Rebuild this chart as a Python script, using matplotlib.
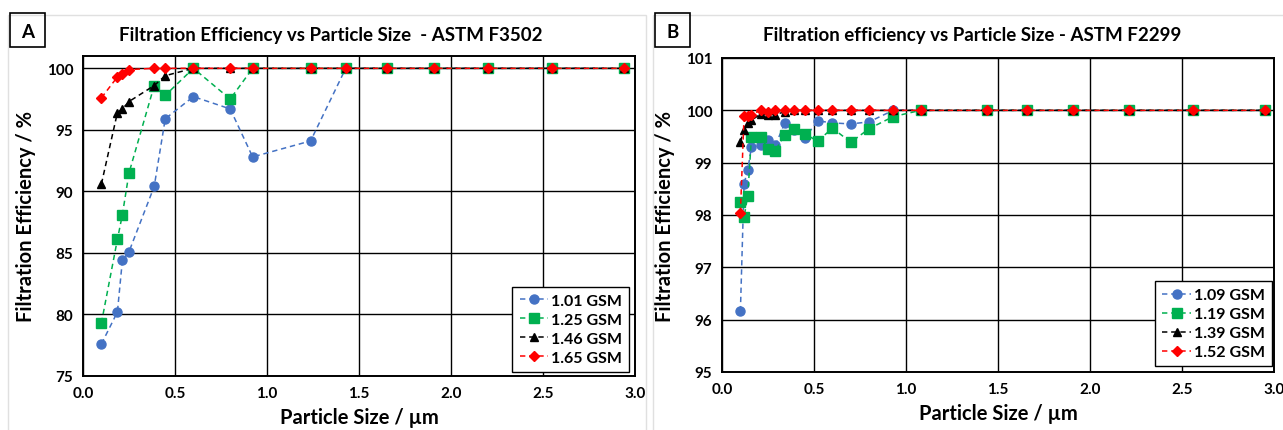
import matplotlib
matplotlib.use("Agg")
import matplotlib.pyplot as plt
from matplotlib.patches import Rectangle

plt.rcParams['font.family'] = ['Lato', 'DejaVu Sans']
plt.rcParams['font.weight'] = 'bold'

# ---------------- Data: Panel A (ASTM F3502) ----------------
size_a = [0.10, 0.187, 0.214, 0.25, 0.387, 0.447, 0.60, 0.80, 0.922, 1.237,
          1.428, 1.654, 1.909, 2.203, 2.547, 2.942]
gsm101 = [77.6, 80.2, 84.4, 85.1, 90.4, 95.9, 97.7, 96.7, 92.8, 94.1,
          100.0, 100.0, 100.0, 100.0, 100.0, 100.0]
gsm125 = [79.3, 86.1, 88.1, 91.5, 98.6, 97.8, 100.0, 97.5, 100.0, 100.0,
          100.0, 100.0, 100.0, 100.0, 100.0, 100.0]
gsm146 = [90.6, 96.4, 96.7, 97.3, 98.6, 99.4, 100.0, 100.0, 100.0, 100.0,
          100.0, 100.0, 100.0, 100.0, 100.0, 100.0]
gsm165 = [97.6, 99.3, 99.5, 99.9, 100.0, 100.0, 100.0, 100.0, 100.0, 100.0,
          100.0, 100.0, 100.0, 100.0, 100.0, 100.0]
labels_a = ['1.01 GSM', '1.25 GSM', '1.46 GSM', '1.65 GSM']

# ---------------- Data: Panel B (ASTM F2299) ----------------
size_b = [0.10, 0.12, 0.14, 0.16, 0.21, 0.25, 0.29, 0.34, 0.39, 0.45, 0.52,
          0.60, 0.70, 0.80, 0.93, 1.08, 1.44, 1.66, 1.91, 2.21, 2.56, 2.95]
gsm109 = [96.16, 98.60, 98.86, 99.30, 99.33, 99.43, 99.33, 99.75, 99.62, 99.47, 99.80,
          99.76, 99.74, 99.78, 100.0, 100.0, 100.0, 100.0, 100.0, 100.0, 100.0, 100.0]
gsm119 = [98.25, 97.96, 98.37, 99.49, 99.49, 99.27, 99.23, 99.53, 99.65, 99.55, 99.41,
          99.66, 99.39, 99.65, 99.88, 100.0, 100.0, 100.0, 100.0, 100.0, 100.0, 100.0]
gsm139 = [99.40, 99.63, 99.75, 99.81, 99.93, 99.92, 99.92, 99.97, 100.0, 100.0, 100.0,
          100.0, 100.0, 100.0, 100.0, 100.0, 100.0, 100.0, 100.0, 100.0, 100.0, 100.0]
gsm152 = [98.04, 99.90, 99.90, 99.92, 100.0, 99.97, 100.0, 100.0, 100.0, 100.0, 100.0,
          100.0, 100.0, 100.0, 100.0, 100.0, 100.0, 100.0, 100.0, 100.0, 100.0, 100.0]
labels_b = ['1.09 GSM', '1.19 GSM', '1.39 GSM', '1.52 GSM']

x_ticks = [0.0, 0.5, 1.0, 1.5, 2.0, 2.5, 3.0]

colors = ['#4472C4', '#00B050', '#000000', '#FF0000']
markers = ['o', 's', '^', 'D']
msizes = [6.5, 6.5, 6.0, 4.8]

W, H = 1283, 431
fig = plt.figure(figsize=(W / 100, H / 100), dpi=100)


def px_axes(l, t, r, b):
    return fig.add_axes([l / W, 1 - b / H, (r - l) / W, (b - t) / H])


# light panel frames
for (x0, x1) in [(8, 646), (653, 1290)]:
    fig.patches.append(Rectangle((x0 / W, -0.1), (x1 - x0) / W, 1.1 - 16 / H,
                                 transform=fig.transFigure, fill=False,
                                 edgecolor='#E0E0E0', linewidth=1.0))


def draw(ax, xs, series, labels, ylim, yticks, legend_anchor):
    for ys, c, m, ms, lab in zip(series, colors, markers, msizes, labels):
        ax.plot(xs, ys, linestyle=(0, (3.5, 2.5)), color=c, linewidth=1.1,
                marker=m, markersize=ms, markerfacecolor=c, markeredgecolor=c,
                label=lab, clip_on=False, zorder=3)
    ax.set_xlim(0, 3.0)
    ax.set_ylim(*ylim)
    ax.set_xticks(x_ticks)
    ax.set_xticklabels([f'{v:.1f}' for v in x_ticks])
    ax.set_yticks(yticks)
    ax.set_yticklabels([str(v) for v in yticks])
    ax.grid(True, color='black', linewidth=1.0)
    ax.set_axisbelow(True)
    for s in ax.spines.values():
        s.set_linewidth(1.4)
        s.set_color('black')
    ax.tick_params(length=0, labelsize=11, pad=7)
    for t in ax.get_xticklabels() + ax.get_yticklabels():
        t.set_fontweight('bold')
    ax.set_xlabel('Particle Size / µm', fontsize=14.5, fontweight='bold', labelpad=5)
    ax.set_ylabel('Filtration Efficiency / %', fontsize=14.5, fontweight='bold', labelpad=8)
    leg = ax.legend(loc='lower right', bbox_to_anchor=legend_anchor, frameon=True,
                    fancybox=False, framealpha=1, edgecolor='black',
                    prop={'size': 11.5, 'weight': 'bold'}, handlelength=1.8,
                    handletextpad=0.15, labelspacing=0.3, borderpad=0.45,
                    borderaxespad=0)
    leg.get_frame().set_linewidth(1.0)
    leg.set_zorder(5)


axA = px_axes(83, 57, 635, 377)
draw(axA, size_a, [gsm101, gsm125, gsm146, gsm165], labels_a,
     (75, 101), [75, 80, 85, 90, 95, 100], (0.989, 0.0125))

axB = px_axes(722, 59, 1274, 373)
draw(axB, size_b, [gsm109, gsm119, gsm139, gsm152], labels_b,
     (95, 101), [95, 96, 97, 98, 99, 100, 101], (0.996, 0.018))

# titles
fig.text(331 / W, 1 - 36 / H, 'Filtration Efficiency vs Particle Size  - ASTM F3502',
         ha='center', va='center', fontsize=13.5, fontweight='bold')
fig.text(972 / W, 1 - 36 / H, 'Filtration efficiency vs Particle Size - ASTM F2299',
         ha='center', va='center', fontsize=13.5, fontweight='bold')

# panel letter boxes
for (x0, x1, letter) in [(10, 45, 'A'), (655, 690, 'B')]:
    fig.patches.append(Rectangle((x0 / W, 1 - 48 / H), (x1 - x0) / W, 34 / H,
                                 transform=fig.transFigure, fill=False,
                                 edgecolor='black', linewidth=1.2))
    fig.text((x0 + x1) / 2 / W, 1 - 32 / H, letter, ha='center', va='center',
             fontsize=13.5, fontweight='bold')

fig.savefig('out.png', dpi=100)
